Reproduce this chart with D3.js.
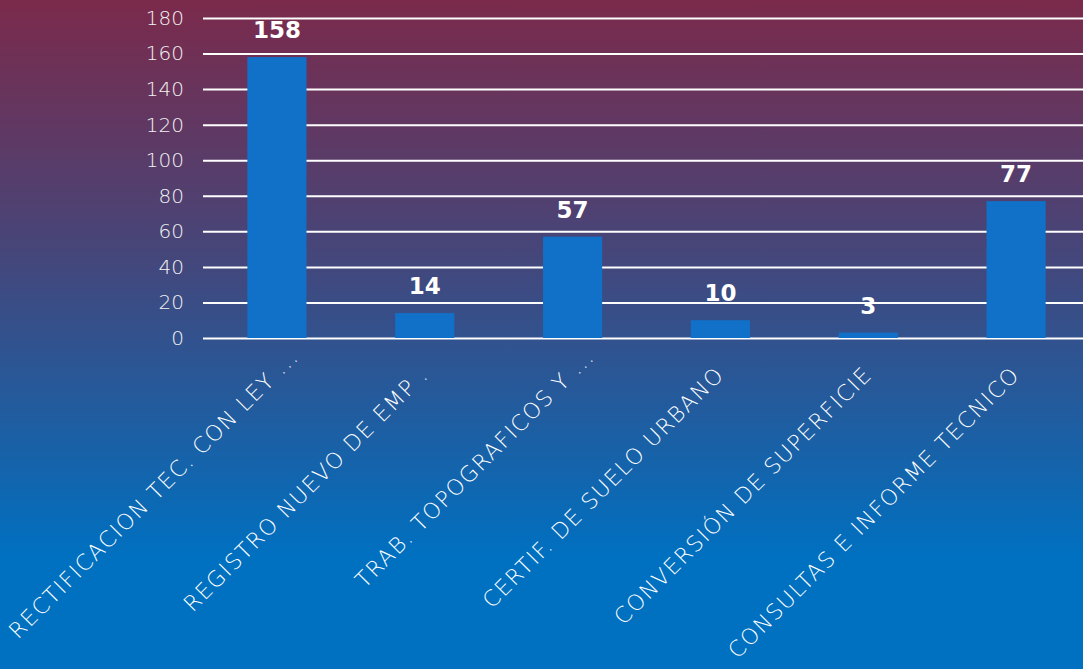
<!DOCTYPE html>
<html>
<head>
<meta charset="utf-8">
<script src="https://cdn.jsdelivr.net/npm/d3@7"></script>
<style>
  body { margin: 0; overflow: hidden; }
  svg { display: block; }
</style>
</head>
<body>
<div id="chart"></div>
<script>
var categories = ["RECTIFICACION TEC. CON LEY ...", "REGISTRO NUEVO DE EMP .", "TRAB. TOPOGRAFICOS Y ...",
  "CERTIF. DE SUELO URBANO", "CONVERSIÓN DE SUPERFICIE", "CONSULTAS E INFORME TECNICO"];
var values = [158, 14, 57, 10, 3, 77];
var yTicks = [0, 20, 40, 60, 80, 100, 120, 140, 160, 180];

var width = 1083, height = 669;
var plotLeft = 203, plotRight = 1090, plotTop = 18, plotBottom = 338;

var svg = d3.select("#chart").append("svg")
  .attr("width", width)
  .attr("height", height);

var grad = svg.append("defs").append("linearGradient")
  .attr("id", "bg")
  .attr("x1", 0).attr("y1", 0).attr("x2", 0).attr("y2", 1);
grad.append("stop").attr("offset", "0").attr("stop-color", "#7b2a4b");
grad.append("stop").attr("offset", "0.38").attr("stop-color", "#45467a");
grad.append("stop").attr("offset", "0.83").attr("stop-color", "#0070c0");
grad.append("stop").attr("offset", "1").attr("stop-color", "#0070c0");

svg.append("rect")
  .attr("width", width).attr("height", height)
  .attr("fill", "url(#bg)");

var x = d3.scaleBand().domain(categories).range([plotLeft, plotRight]).paddingInner(0.6).paddingOuter(0.3);
var y = d3.scaleLinear().domain([0, 180]).range([plotBottom, plotTop]);

// gridlines
var yAxis = svg.append("g")
  .attr("transform", "translate(" + plotLeft + ",0)")
  .call(d3.axisLeft(y).tickValues(yTicks).tickSize(-(width - plotLeft)).tickPadding(19));
yAxis.select(".domain").remove();
yAxis.selectAll(".tick line").attr("stroke", "#ffffff").attr("stroke-width", 2);
yAxis.selectAll(".tick text")
  .attr("fill", "#f2f2f2")
  .style("font-family", "'DejaVu Sans', sans-serif")
  .style("font-weight", "200")
  .style("font-size", "20px");

svg.selectAll(".bar")
  .data(values)
  .enter().append("rect")
  .attr("class", "bar")
  .attr("x", function(d, i){ return x(categories[i]); })
  .attr("y", function(d){ return y(d); })
  .attr("width", x.bandwidth())
  .attr("height", function(d){ return plotBottom - y(d); })
  .attr("fill", "#1170c8");

svg.selectAll(".val")
  .data(values)
  .enter().append("text")
  .attr("class", "val")
  .attr("x", function(d, i){ return x(categories[i]) + x.bandwidth() / 2; })
  .attr("y", function(d){ return y(d) - 19; })
  .attr("text-anchor", "middle")
  .attr("fill", "#ffffff")
  .style("font-family", "'DejaVu Sans', sans-serif")
  .style("font-weight", "bold")
  .style("font-size", "23px")
  .text(function(d){ return d; });

// truncated labels sit a bit further up the diagonal
svg.selectAll(".cat")
  .data(categories)
  .enter().append("text")
  .attr("class", "cat")
  .attr("transform", function(d){
    var shift = d.slice(-3) == "..." ? 18 : 0;
    return "translate(" + (x(d) + x.bandwidth() / 2 + 5 + shift) + "," + (plotBottom + 38 - shift) + ") rotate(-45)";
  })
  .attr("text-anchor", "end")
  .attr("fill", "#ffffff")
  .style("font-family", "'DejaVu Sans', sans-serif")
  .style("font-weight", "200")
  .style("font-size", "22px")
  .style("letter-spacing", "1.4px")
  .text(function(d){ return d; });
</script>
</body>
</html>
